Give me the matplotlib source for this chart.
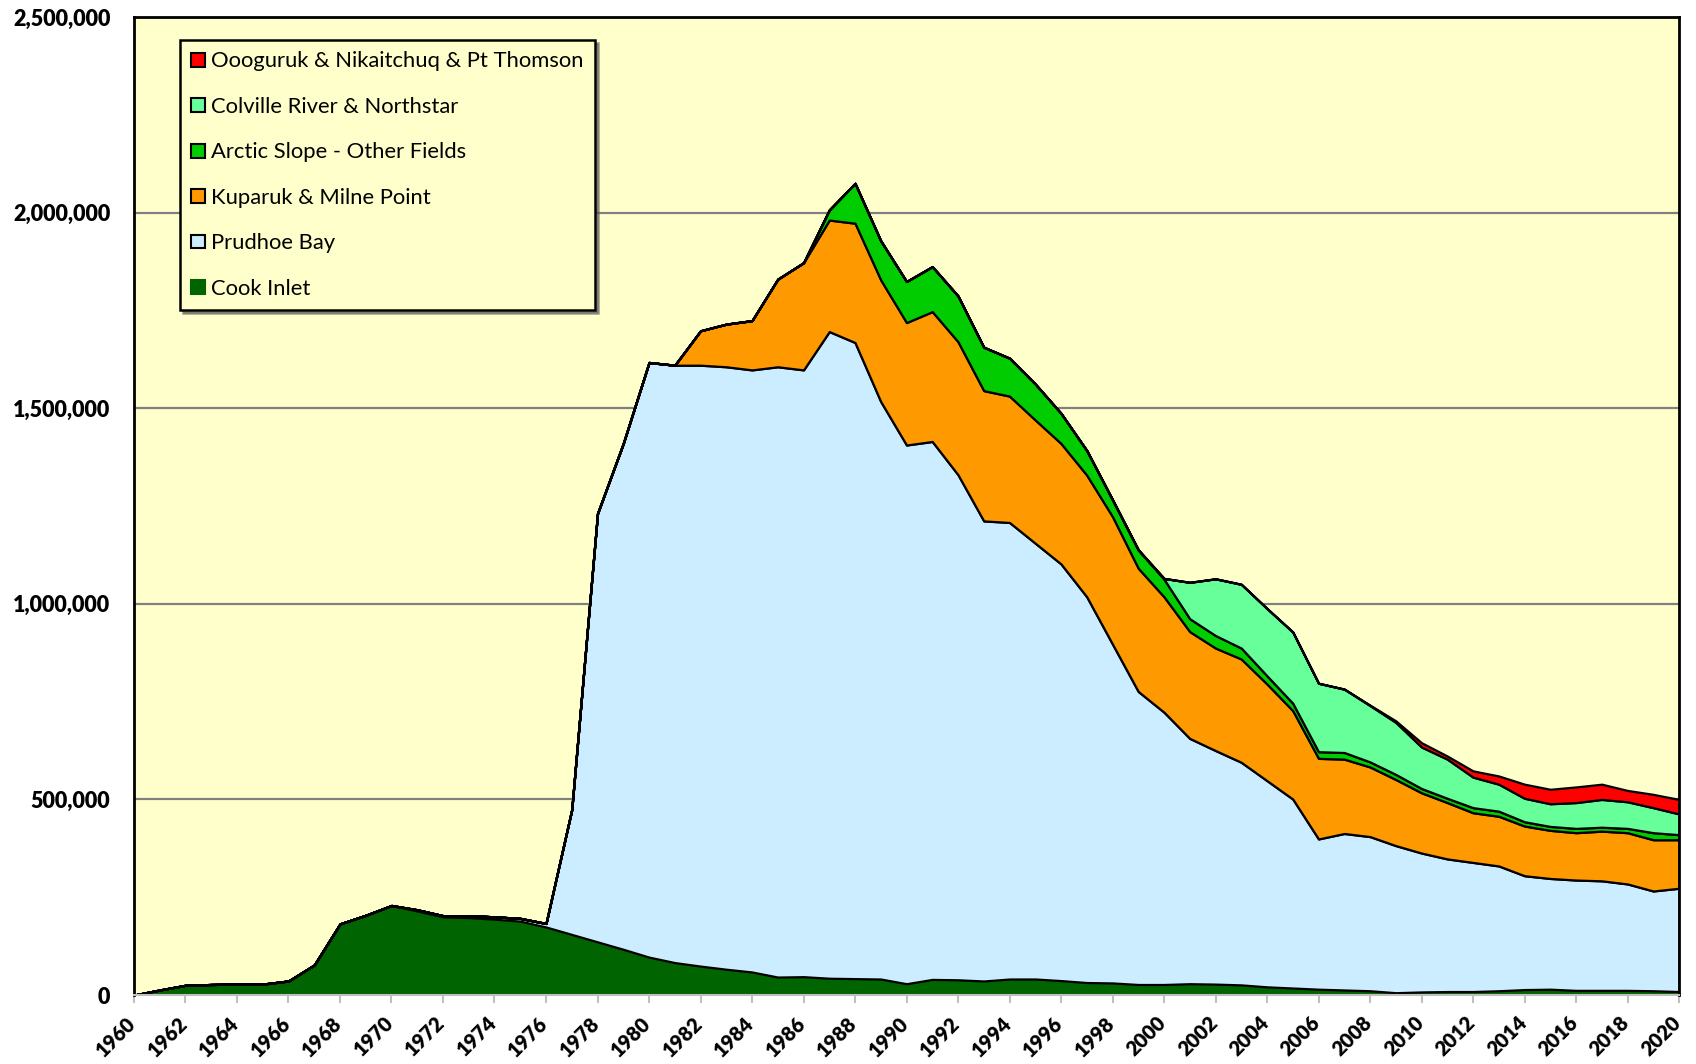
import numpy as np
import matplotlib
matplotlib.use("Agg")
import matplotlib.pyplot as plt
from matplotlib.patches import Patch
from matplotlib.ticker import FuncFormatter
from matplotlib.transforms import ScaledTranslation

years = list(range(1960, 2021))

# production, thousand barrels per day
cook_inlet = [0, 13, 25, 27, 28, 28, 36, 77, 182, 204,
              229, 215, 200, 198, 194, 189, 174, 155, 136, 117,
              97, 83, 74, 66, 59, 46, 47, 43, 42, 41,
              29, 40, 39, 36, 41, 41, 37, 32, 31, 27,
              27, 29, 28, 26, 21, 18, 15, 13, 11, 6,
              8, 9, 9, 11, 14, 15, 12, 12, 12, 11,
              9]
prudhoe_bay = [0] * 11 + [3, 3, 5, 6, 7, 9, 319, 1095, 1293,
               1520, 1527, 1536, 1540, 1539, 1560, 1551, 1653, 1626, 1476,
               1377, 1375, 1291, 1176, 1167, 1114, 1065, 986, 866, 749,
               696, 627, 597, 569, 527, 483, 384, 400, 394, 376,
               355, 339, 330, 319, 291, 283, 282, 280, 272, 255,
               264]
kuparuk_milne = [0] * 22 + [88, 109, 126, 224, 274, 285, 305, 311,
                 313, 332, 340, 333, 323, 315, 308, 311, 326, 315,
                 295, 273, 262, 264, 247, 226, 206, 190, 178, 169,
                 154, 144, 127, 127, 127, 123, 121, 127, 131, 131,
                 124]
arctic_other = [0] * 27 + [26, 102, 100,
                105, 115, 117, 111, 97, 92, 77, 63, 43, 47,
                45, 33, 32, 28, 21, 19, 17, 17, 13, 13,
                11, 11, 13, 13, 11, 10, 11, 10, 11, 18,
                13]
colville_northstar = [0] * 40 + [2, 93, 145, 163, 172, 182, 175, 162, 144, 133,
                      106, 100, 78, 69, 60, 58, 66, 71, 68, 64,
                      53]
oooguruk_etc = [0] * 48 + [1, 4,
                11, 8, 16, 21, 36, 37, 40, 39, 29, 34,
                37]

labels = ["Cook Inlet", "Prudhoe Bay", "Kuparuk & Milne Point",
          "Arctic Slope - Other Fields", "Colville River & Northstar",
          "Oooguruk & Nikaitchuq & Pt Thomson"]
colors = ["#006400", "#CCECFF", "#FF9900", "#00CC00", "#66FF99", "#FF0000"]
edges = ["#006400", "black", "black", "black", "black", "black"]

series = [cook_inlet, prudhoe_bay, kuparuk_milne, arctic_other,
          colville_northstar, oooguruk_etc]
data = np.array(series, dtype=float) * 1000.0

plt.rcParams['font.family'] = ['Lato', 'DejaVu Sans']

fig = plt.figure(figsize=(16.96, 10.64), dpi=100)
ax = fig.add_axes([0.079, 0.0648, 0.911, 0.9192])
ax.set_facecolor("#FFFFCC")

polys = ax.stackplot(years, data, colors=colors)
for p, ec in zip(polys, edges):
    p.set_edgecolor(ec)
    p.set_linewidth(1.6 if ec == "black" else 0.8)

ax.set_xlim(1960, 2020)
ax.set_ylim(0, 2500000)
ax.set_xticks(list(range(1960, 2021, 2)))
ax.set_yticks(list(range(0, 2500001, 500000)))
ax.yaxis.set_major_formatter(FuncFormatter(lambda v, p: f"{int(v):,}"))

ax.set_axisbelow(True)
ax.yaxis.grid(True, color="#808080", linewidth=1.6)

ax.tick_params(axis="x", length=6, width=1.5, color="#BFBFBF", pad=7)
ax.tick_params(axis="y", length=0, pad=17)

shift = ScaledTranslation(-0.08, 0.0, fig.dpi_scale_trans)
for lab in ax.get_xticklabels():
    lab.set_rotation(45)
    lab.set_ha("right")
    lab.set_rotation_mode("anchor")
    lab.set_fontweight("heavy")
    lab.set_fontsize(14.5)
    lab.set_transform(lab.get_transform() + shift)
for lab in ax.get_yticklabels():
    lab.set_fontweight("heavy")
    lab.set_fontsize(15.5)

for s in ["left", "top", "right"]:
    ax.spines[s].set_color("black")
    ax.spines[s].set_linewidth(2)
ax.spines["bottom"].set_color("#BFBFBF")
ax.spines["bottom"].set_linewidth(1.5)

handles = []
for i in range(5, -1, -1):
    handles.append(Patch(facecolor=colors[i],
                         edgecolor=("black" if i != 0 else colors[i]),
                         linewidth=1.5, label=labels[i]))
leg = ax.legend(handles=handles, loc="upper left",
                bbox_to_anchor=(0.0298, 0.9765), borderaxespad=0,
                fontsize=15.8, frameon=True, fancybox=False,
                facecolor="#FFFFCC", edgecolor="black", framealpha=1,
                handlelength=0.6, handleheight=0.6, handletextpad=0.3,
                labelspacing=1.16, borderpad=0.52,
                shadow={'color': '#555555', 'alpha': 0.6})
leg.get_frame().set_linewidth(1.8)

fig.savefig("out.png", dpi=100, facecolor="white")
